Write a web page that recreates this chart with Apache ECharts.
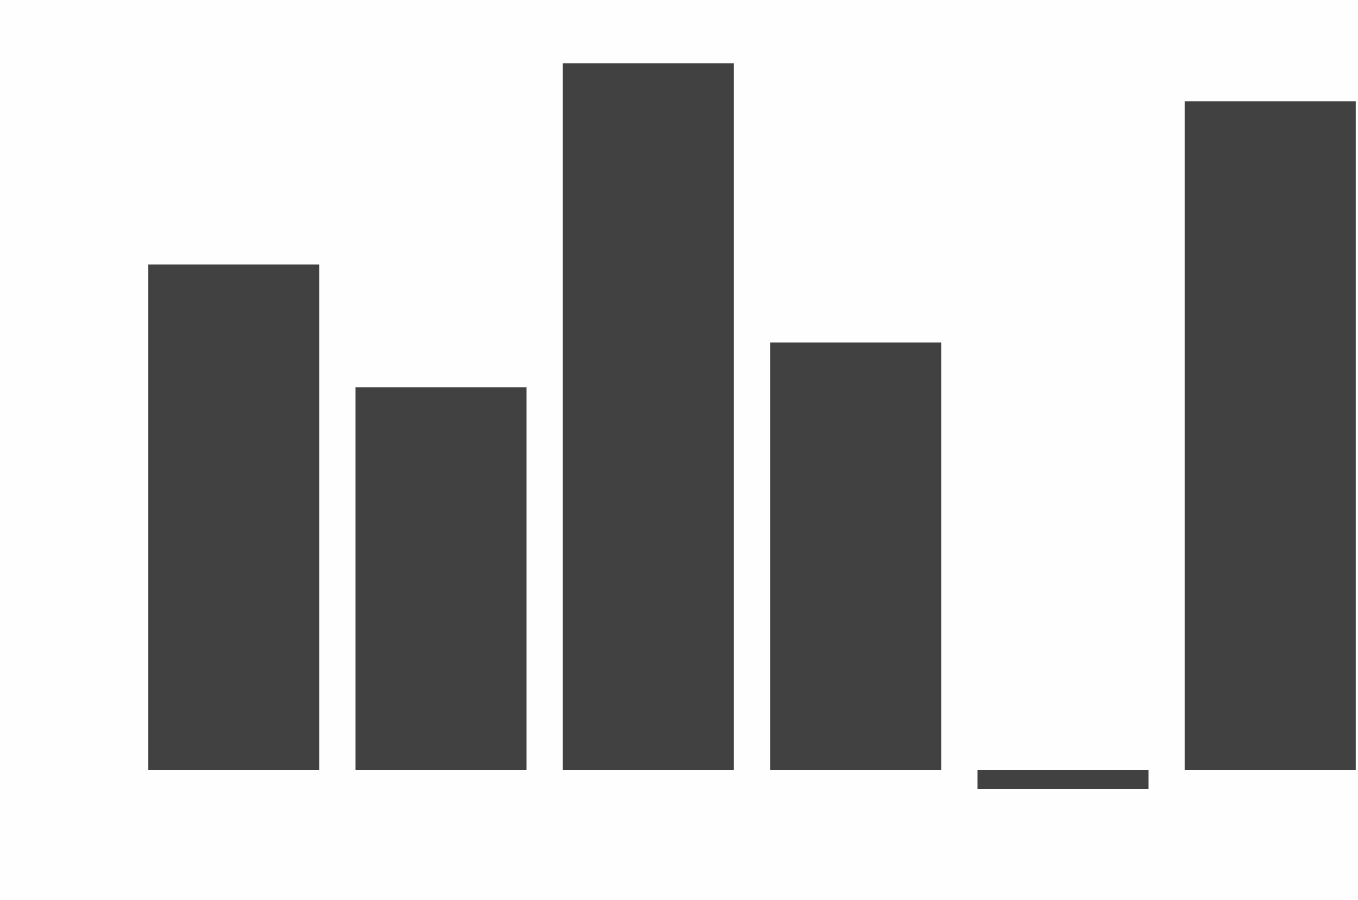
<!DOCTYPE html>
<html>
<head>
<meta charset="utf-8">
<script src="https://cdn.jsdelivr.net/npm/echarts@6/dist/echarts.min.js"></script>
<style>html,body{margin:0;padding:0;background:#fefefe;overflow:hidden;}#c{width:1358px;height:900px;}</style>
</head>
<body>
<div id="c"></div>
<script>
const categories = ['A', 'B', 'C', 'D', 'E', 'F'];
const values = [26.6, 20.15, 37.2, 22.5, -1.0, 35.2];

const chart = echarts.init(document.getElementById('c'), null, {renderer: 'canvas'});
chart.setOption({
  backgroundColor: '#fefefe',
  animation: false,
  grid: {left: 130, width: 1244, top: 10, height: 855, containLabel: false, outerBoundsMode: 'none'},
  xAxis: {
    type: 'category',
    data: categories,
    show: false
  },
  yAxis: {
    type: 'value',
    min: -5,
    max: 40,
    show: false,
    splitLine: {show: false}
  },
  series: [{
    type: 'bar',
    data: values,
    barCategoryGap: '17.5%',
    itemStyle: {color: '#414141'}
  }]
});
</script>
</body>
</html>
